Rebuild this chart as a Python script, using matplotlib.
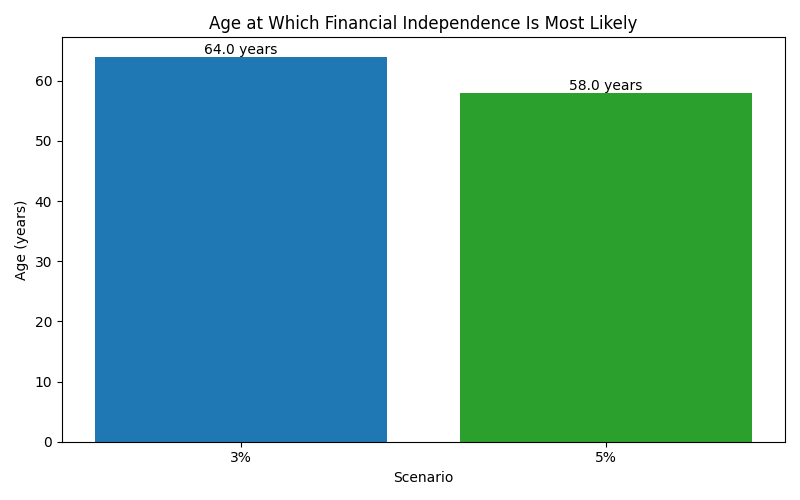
import matplotlib
matplotlib.use("Agg")
import matplotlib.pyplot as plt

scenarios = ["3%", "5%"]
ages = [64.0, 58.0]
colors = ["#1f77b4", "#2ca02c"]

fig, ax = plt.subplots(figsize=(8, 5), dpi=100)
bars = ax.bar(scenarios, ages, color=colors)
for b, v in zip(bars, ages):
    ax.text(b.get_x() + b.get_width() / 2, v, f"{v:.1f} years", ha="center", va="bottom")
ax.set_title("Age at Which Financial Independence Is Most Likely")
ax.set_xlabel("Scenario")
ax.set_ylabel("Age (years)")
plt.tight_layout()
plt.savefig("out.png")
